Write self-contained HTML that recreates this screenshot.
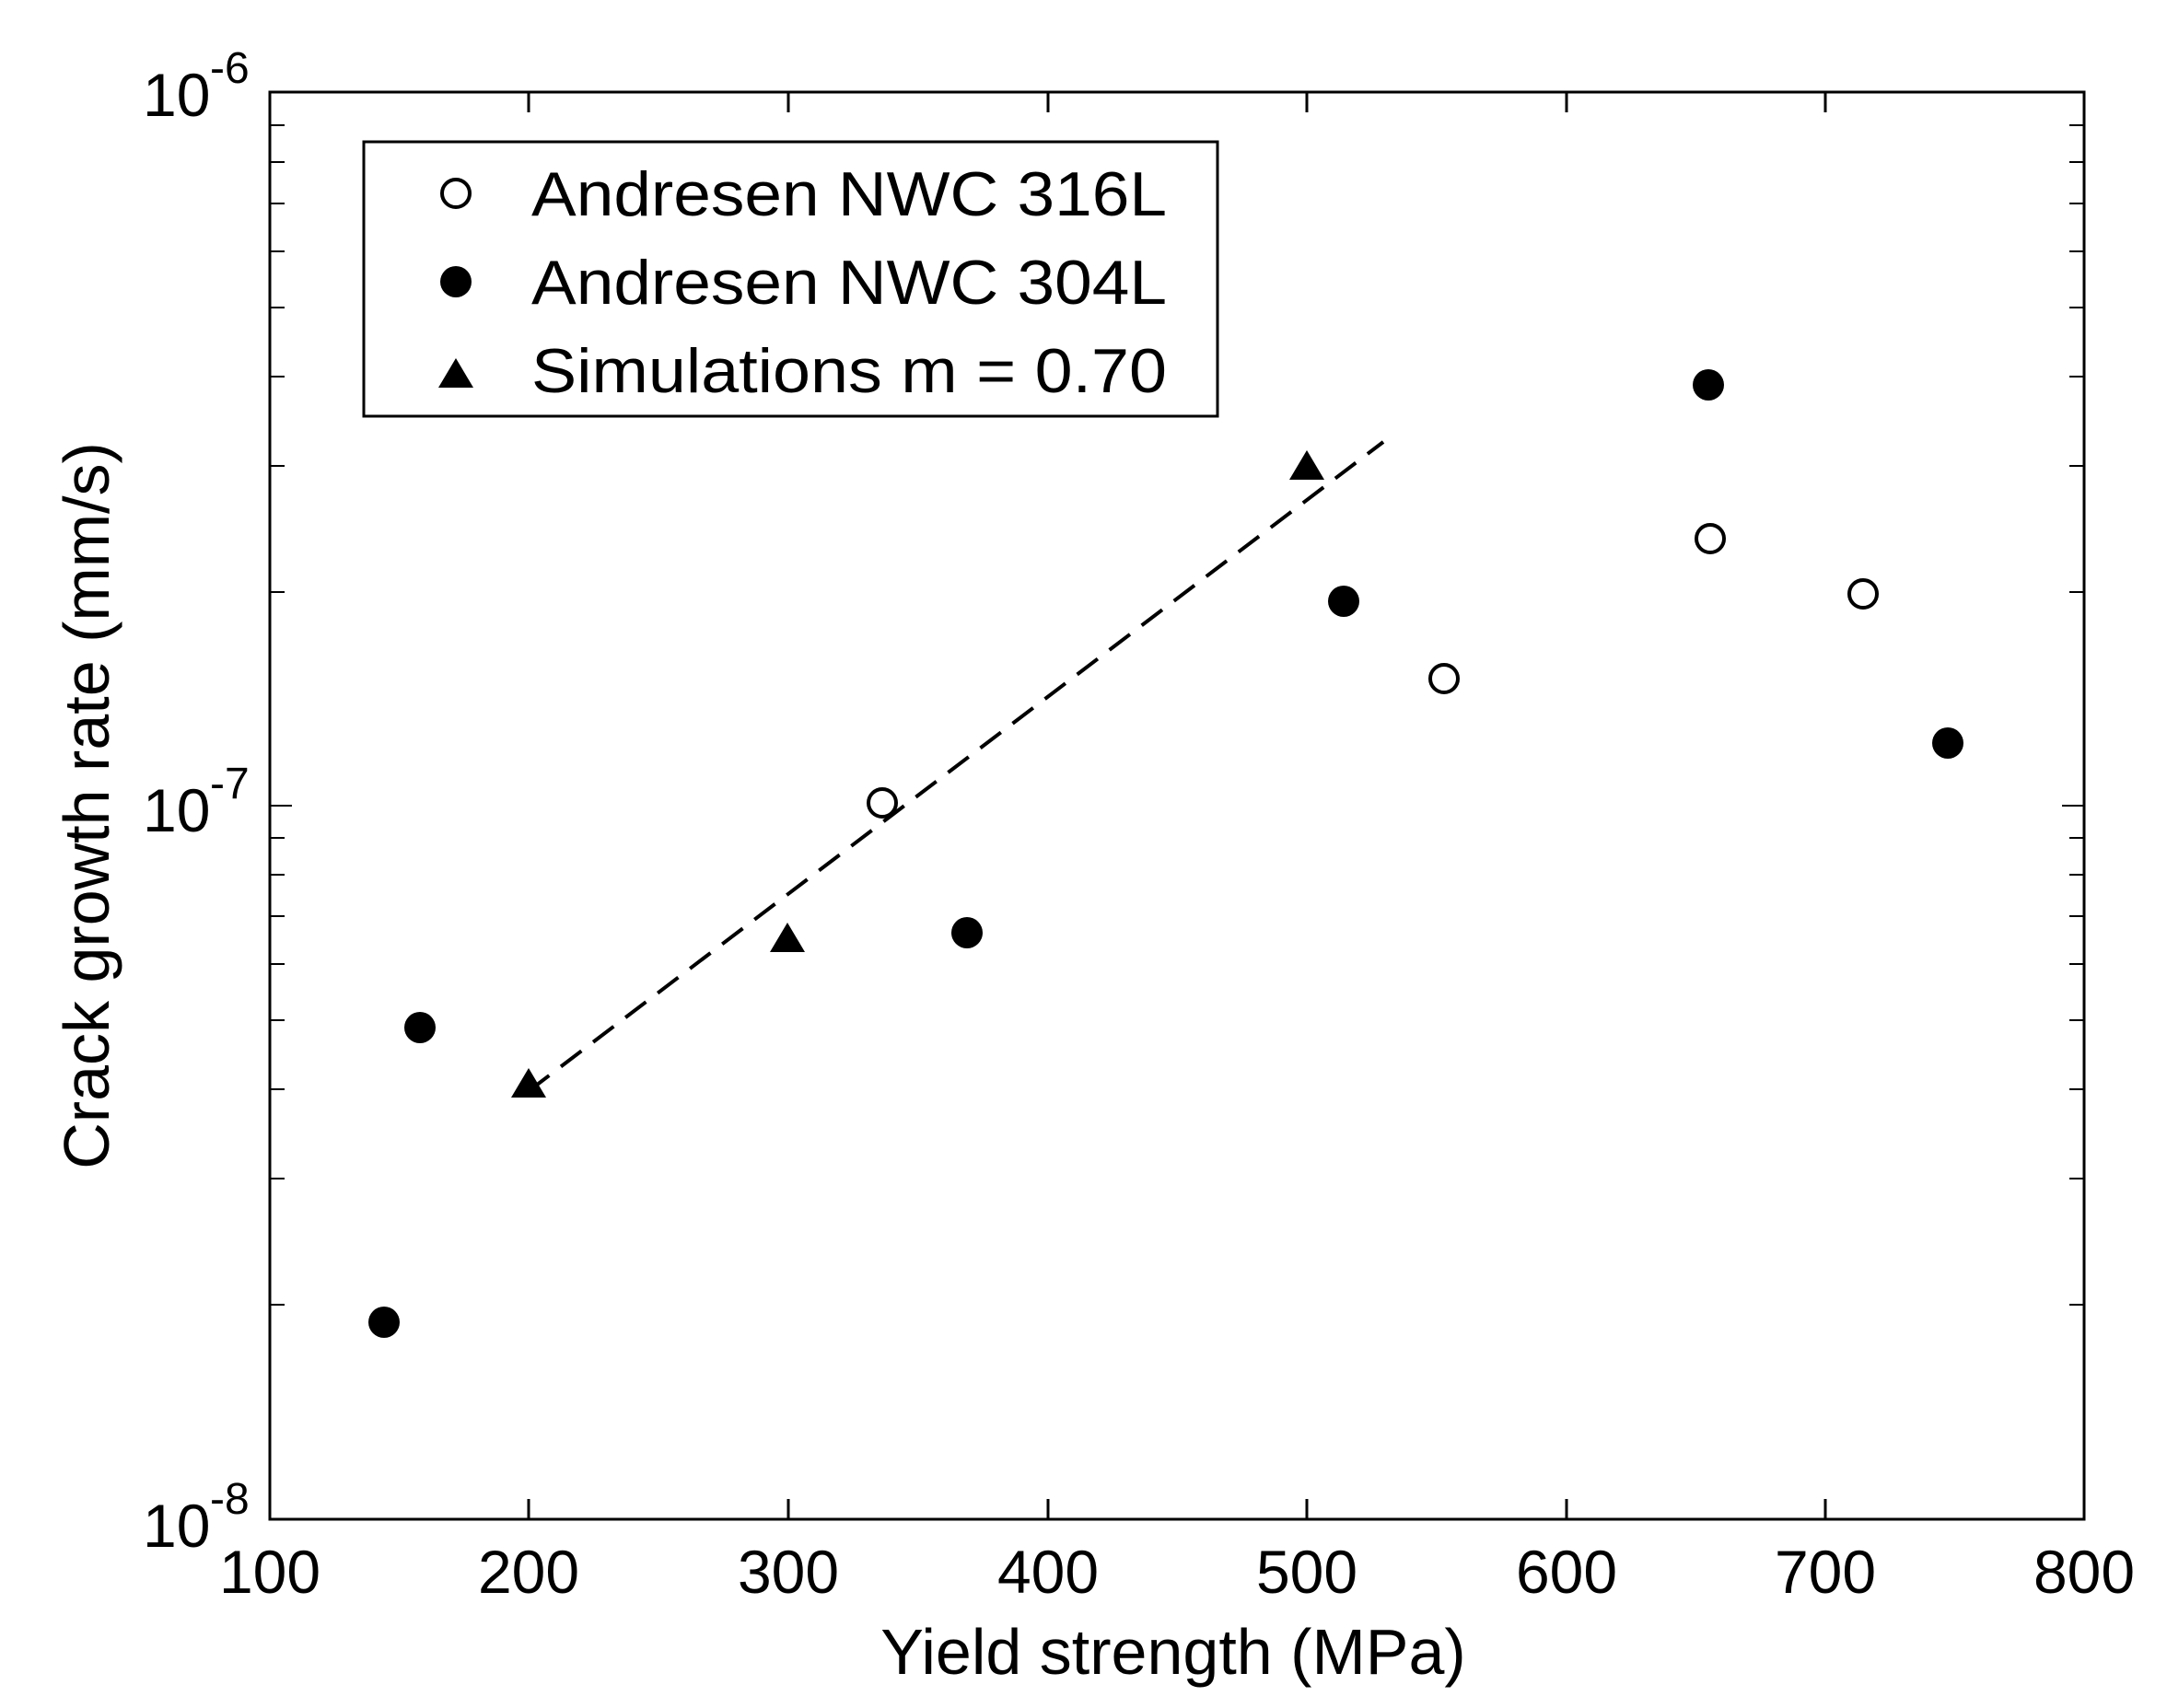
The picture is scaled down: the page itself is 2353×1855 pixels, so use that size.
<!DOCTYPE html>
<html><head><style>body{margin:0;background:#fff}svg{display:block}</style></head><body>
<svg width="2353" height="1855" xmlns="http://www.w3.org/2000/svg" font-family="Liberation Sans, sans-serif">
<rect width="2353" height="1855" fill="#fff"/>
<g stroke="#000" stroke-width="3" fill="none">
<rect x="293" y="100" width="1970" height="1550"/>
<path d="
M574,1650v-22M856,1650v-22M1138,1650v-22M1419,1650v-22M1701,1650v-22M1982,1650v-22
M574,100v22M856,100v22M1138,100v22M1419,100v22M1701,100v22M1982,100v22"/>
<path d="
M293,1417h16M293,1280h16M293,1183h16M293,1108h16M293,1047h16M293,995h16M293,950h16M293,910h16
M293,643h16M293,506h16M293,409h16M293,334h16M293,273h16M293,221h16M293,176h16M293,136h16
M2263,1417h-16M2263,1280h-16M2263,1183h-16M2263,1108h-16M2263,1047h-16M2263,995h-16M2263,950h-16M2263,910h-16
M2263,643h-16M2263,506h-16M2263,409h-16M2263,334h-16M2263,273h-16M2263,221h-16M2263,176h-16M2263,136h-16
M293,875h24M2263,875h-24" stroke-width="2"/>
<line x1="574" y1="1185" x2="1502" y2="480" stroke-dasharray="28,16" stroke-width="4"/>
<rect x="395" y="154" width="927" height="298" stroke-width="3"/>
</g>
<g fill="#fff" stroke="#000" stroke-width="4">
<circle cx="958" cy="872" r="15"/><circle cx="1568" cy="737" r="15"/><circle cx="1857" cy="585" r="15"/><circle cx="2023" cy="645" r="15"/>
<circle cx="495" cy="210" r="15"/>
</g>
<g fill="#000">
<circle cx="417" cy="1436" r="17"/><circle cx="456" cy="1116" r="17"/><circle cx="1050" cy="1013" r="17"/><circle cx="1459" cy="653" r="17"/><circle cx="1855" cy="418" r="17"/><circle cx="2115" cy="807" r="17"/>
<circle cx="495" cy="306" r="17"/>
<path d="M574,1160l19,32h-38z M855,1002l19,32h-38z M1419,489l19,32h-38z M495,389l19,32h-38z"/>
</g>
<g font-size="68">
<text x="577" y="234" textLength="690" lengthAdjust="spacingAndGlyphs">Andresen NWC 316L</text>
<text x="577" y="330" textLength="690" lengthAdjust="spacingAndGlyphs">Andresen NWC 304L</text>
<text x="577" y="426" textLength="690" lengthAdjust="spacingAndGlyphs">Simulations m = 0.70</text>
</g>
<g font-size="66" text-anchor="middle">
<text x="293" y="1730">100</text><text x="574" y="1730">200</text><text x="856" y="1730">300</text><text x="1138" y="1730">400</text>
<text x="1419" y="1730">500</text><text x="1701" y="1730">600</text><text x="1982" y="1730">700</text><text x="2263" y="1730">800</text>
</g>
<g font-size="66">
<text x="155" y="126">10</text><text x="228" y="90" font-size="48">-6</text>
<text x="155" y="903">10</text><text x="228" y="867" font-size="48">-7</text>
<text x="155" y="1680">10</text><text x="228" y="1644" font-size="48">-8</text>
</g>
<text x="1274" y="1818" font-size="70" text-anchor="middle">Yield strength (MPa)</text>
<text transform="translate(118,875) rotate(-90)" font-size="70" text-anchor="middle">Crack growth rate (mm/s)</text>
</svg>
</body></html>
